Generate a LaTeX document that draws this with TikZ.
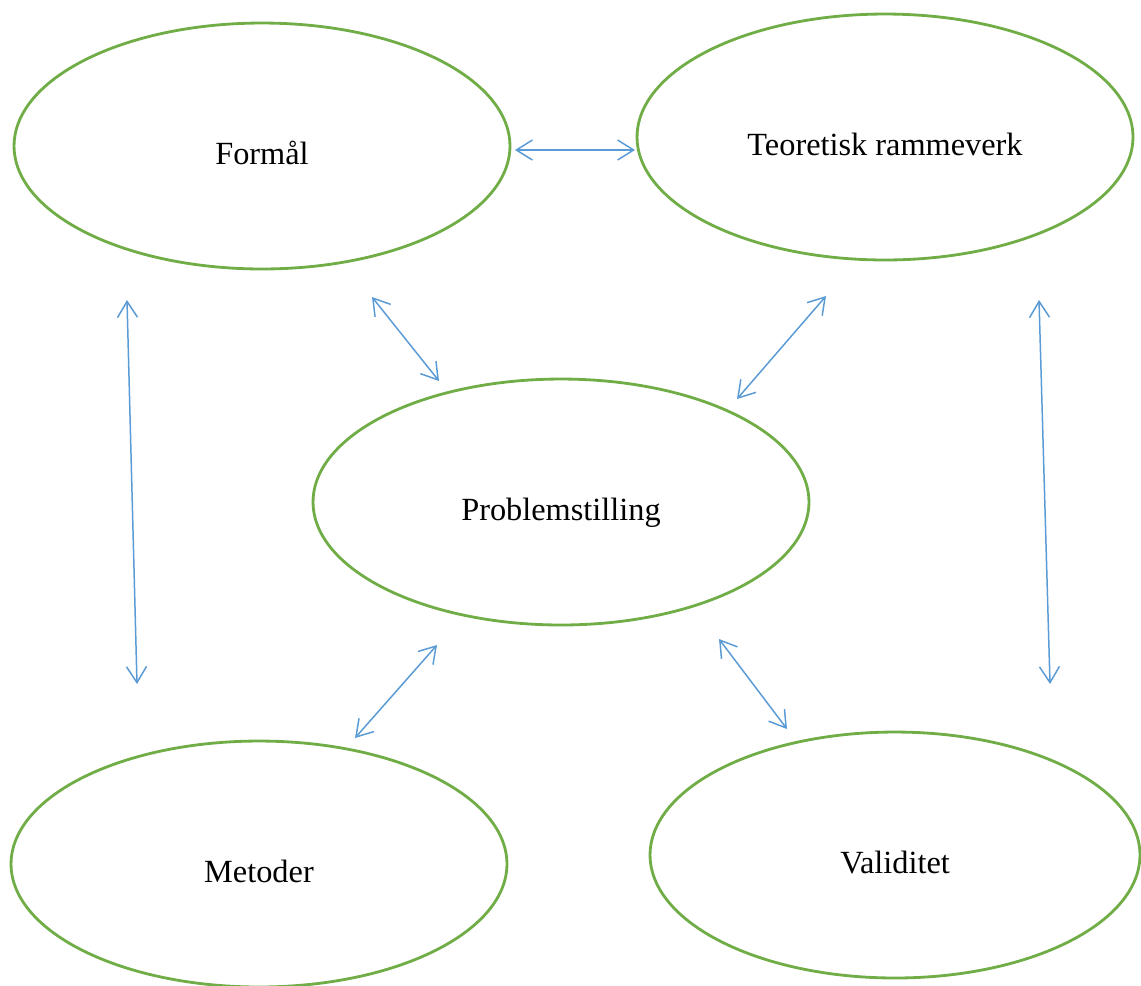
\documentclass[tikz,border=0pt]{standalone}
\usepackage{fontspec}
\setmainfont{Liberation Serif}
\usetikzlibrary{shapes.geometric,arrows.meta}
\definecolor{ovalgreen}{RGB}{112,173,71}
\definecolor{arrowblue}{RGB}{91,155,213}
\tikzset{
  oval/.style={ellipse,draw=ovalgreen,line width=1.6pt,inner sep=0pt,
    minimum width=9.92cm,minimum height=4.92cm,
    font=\fontsize{18.4}{21}\selectfont,text height=21pt,text depth=0pt},
  link/.style={{Straight Barb[length=0.32cm,width=0.4cm]}-{Straight Barb[length=0.32cm,width=0.4cm]},
    draw=arrowblue,line width=0.85pt}
}
\begin{document}
\begin{tikzpicture}[x=0.02cm,y=-0.02cm]
  \useasboundingbox (0,0) rectangle (1141,985);
  % the five ovals
  \node[oval] (formal) at (262,146) {Formål};
  \node[oval] (teori) at (885,137) {Teoretisk rammeverk};
  \node[oval] (problem) at (561,502) {Problemstilling};
  \node[oval] (metode) at (259,864) {Metoder};
  \node[oval,minimum width=9.8cm] (validitet) at (895,855) {Validitet};
  % arrow ends
  \coordinate (fa) at (515,150);
  \coordinate (ta) at (635,150);
  \coordinate (fb) at (127,300);
  \coordinate (mb) at (137,684);
  \coordinate (fc) at (372,297);
  \coordinate (pc) at (439,381);
  \coordinate (td) at (826,296);
  \coordinate (pd) at (737,399);
  \coordinate (te) at (1039,300);
  \coordinate (ve) at (1050,684);
  \coordinate (pf) at (437,645);
  \coordinate (mf) at (355,738);
  \coordinate (pg) at (719,639);
  \coordinate (vg) at (787,729);
  \draw[link] (fa) -- (ta);
  \draw[link] (fb) -- (mb);
  \draw[link] (fc) -- (pc);
  \draw[link] (td) -- (pd);
  \draw[link] (te) -- (ve);
  \draw[link] (pf) -- (mf);
  \draw[link] (pg) -- (vg);
\end{tikzpicture}
\end{document}
